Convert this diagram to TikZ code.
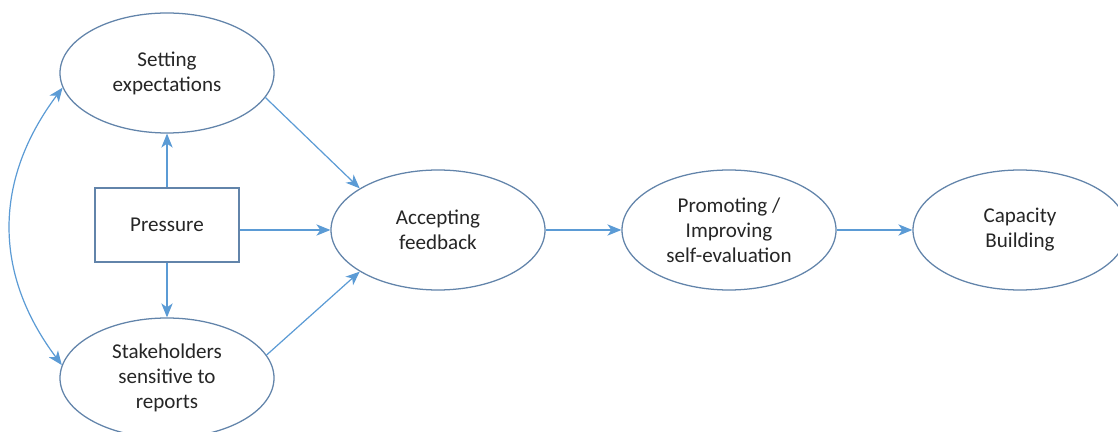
\documentclass[tikz,border=0pt]{standalone}
\usepackage{fontspec}
\setmainfont{Carlito}
\usetikzlibrary{shapes.geometric,arrows.meta}
\definecolor{outline}{HTML}{6284AA}
\definecolor{arrowblue}{HTML}{5B9BD5}
\definecolor{txt}{HTML}{262626}
\begin{document}
\begin{tikzpicture}[x=0.75pt,y=0.75pt,
  every node/.style={font=\fontsize{15.8}{18.75}\selectfont, text=txt, align=center},
  oval/.style={ellipse, draw=outline, line width=0.95pt, fill=white,
    minimum width=160.5pt, minimum height=90pt, inner sep=0pt},
  box/.style={rectangle, draw=outline, line width=0.95pt, fill=white,
    minimum width=108pt, minimum height=55.5pt, inner sep=0pt},
  tip/.style={Stealth[length=10.5pt,width=8.5pt,inset=3pt]},
  link/.style={draw=arrowblue, line width=0.9pt, -{Stealth[length=10.5pt,width=8.5pt,inset=3pt]}},
  twoway/.style={draw=arrowblue, line width=0.9pt,
    {Stealth[length=10.5pt,width=8.5pt,inset=3pt]}-{Stealth[length=10.5pt,width=8.5pt,inset=3pt]}}]
  \useasboundingbox (0,0) rectangle (1118,432);
  \fill[white] (0,0) rectangle (1118,432);
  \clip (0,0) rectangle (1118,432);

  % nodes
  \node[oval] (S) at (167,359) {Setting\\expectations};
  \node[box]  (P) at (167,207) {Pressure};
  \node[oval] (K) at (167,54)  {Stakeholders\\sensitive to\\reports};
  \node[oval] (A) at (438,202) {Accepting\\feedback};
  \node[oval] (M) at (729,202) {Promoting /\\Improving\\self-evaluation};
  \node[oval] (C) at (1020,202) {Capacity\\Building};

  % connectors
  \draw[link] (P.north) -- (S.south);
  \draw[link] (P.south) -- (K.north);
  \draw[link] (P.east |- A.west) -- (A.west);
  \draw[link] (S.-14) -- (A.152);
  \draw[link] (K.13) -- (A.208);
  \draw[link] (A.east) -- (M.west);
  \draw[link] (M.east) -- (C.west);
  \draw[twoway] (S.188) .. controls +(-69,-92) and +(-69,92) .. (K.173);
\end{tikzpicture}
\end{document}
